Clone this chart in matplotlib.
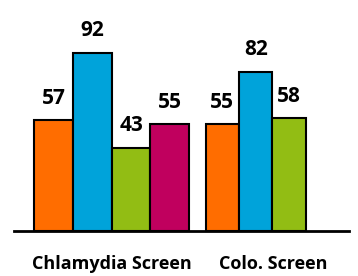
import matplotlib.pyplot as plt

categories = ["Chlamydia Screen", "Colo. Screen"]
chlamydia = [57, 92, 43, 55]
colo = [55, 82, 58]
colors = ["#FF6D00", "#00A3DA", "#92BD14", "#C0005E"]

plt.rcParams['font.family'] = ['Open Sans', 'DejaVu Sans']

fig = plt.figure(figsize=(3.58, 2.76), dpi=100)
ax = fig.add_axes([14 / 358, 45 / 276, 335 / 358, 213.4 / 276])

# group layout in pixel-ish units: (left edge, bar width, label center)
groups = [(34.3, 38.7, 112), (205.7, 33.3, 273)]

for (left, w, _), vals in zip(groups, [chlamydia, colo]):
    for i, v in enumerate(vals):
        x = left + w * i + w / 2
        ax.bar(x, v, width=w, color=colors[i], edgecolor="black", linewidth=1.5, zorder=2)
        ax.annotate(str(v), (x, v), xytext=(0, 12), textcoords="offset points",
                    ha="center", va="baseline", fontsize=15, fontweight="bold")

ax.set_xlim(14, 349)
ax.set_ylim(0, 110)
ax.set_xticks([g[2] for g in groups])
ax.set_xticklabels(categories, fontsize=13, fontweight="bold")
ax.tick_params(axis="x", length=0, pad=17)
ax.set_yticks([])
for s in ["top", "right", "left"]:
    ax.spines[s].set_visible(False)
ax.spines["bottom"].set_linewidth(2)
ax.spines["bottom"].set_zorder(3)

fig.savefig("out.png", dpi=100)
